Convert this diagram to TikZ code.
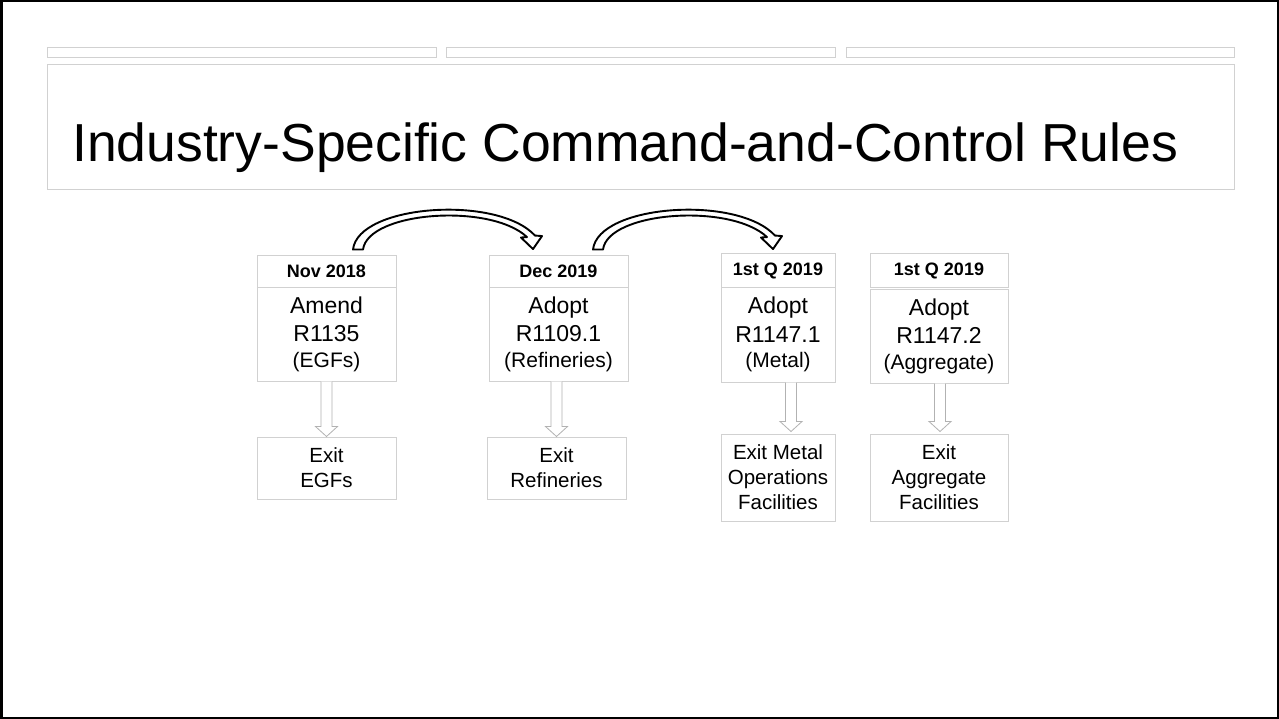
\documentclass[tikz,border=0pt]{standalone}
\usepackage{fontspec}
\setmainfont{Liberation Sans}
\usetikzlibrary{calc}
\tikzset{
  graybox/.style={draw=black!18, line width=1pt, inner sep=0pt, align=center, fill=white},
  hdr/.style={graybox, font=\bfseries\fontsize{18}{20}\selectfont},
  bodybox/.style={graybox, font=\fontsize{23}{28.5}\selectfont},
  exitbox/.style={graybox, font=\fontsize{20.5}{25}\selectfont},
  topbar/.style={graybox, minimum height=10pt},
  downarr/.style={draw=black!30, fill=white, line width=0.8pt, line join=miter},
  curvedarr/.style={draw=black, fill=white, line width=1.9pt, line join=round},
  curvedarrow/.pic={
    \path[curvedarr] (26.5,-5.7) .. controls (31.5,-50.7) and (170.5,-60.7) .. (208.5,-19.7)
      -- (215.5,-19.2) -- (206.5,-6.2) -- (194.5,-17.7) -- (200.5,-18.2)
      .. controls (163.5,-52.7) and (41.5,-43.7) .. (36.5,-5.7) -- cycle;
  }
}
\newcommand\blockdown[2]{%
  \draw[downarr] ($(#1)+(-5.5,0)$) -- ($(#2)+(-5.5,-10)$) -- ($(#2)+(-11,-10)$) -- (#2)
    -- ($(#2)+(11,-10)$) -- ($(#2)+(5.5,-10)$) -- ($(#1)+(5.5,0)$);}
\begin{document}
\begin{tikzpicture}[x=1pt,y=-1pt]
\useasboundingbox (0,0) rectangle (1279,719);
\fill[white] (0,0) rectangle (1279,719);
\draw[line width=2.5pt] (1.25,1.25) rectangle (1277.75,717.75);

% top bars and title box
\node[topbar, minimum width=389pt] (bar1) at (241.5,53) {};
\node[topbar, minimum width=389pt] (bar2) at (640.5,53) {};
\node[topbar, minimum width=388pt] (bar3) at (1040,53) {};
\node[graybox, minimum width=1187pt, minimum height=125pt] (tbox) at (640.5,127.5) {};
\node[anchor=base west, inner sep=0pt, font=\fontsize{53.5}{60}\selectfont] (title) at (72,161.7)
  {Industry-Specific Command-and-Control Rules};

% headers
\node[hdr, minimum width=139pt, minimum height=31.5pt] (h1) at (326.5,271.5) {Nov 2018};
\node[hdr, minimum width=139pt, minimum height=31.5pt] (h2) at (558.5,271.5) {Dec 2019};
\node[hdr, minimum width=114pt, minimum height=33pt] (h3) at (778,270.5) {1st Q 2019};
\node[hdr, minimum width=138pt, minimum height=33pt] (h4) at (939,270.5) {1st Q 2019};

% bodies
\node[bodybox, minimum width=139pt, minimum height=94pt] (b1) at (326.5,334)
  {Amend\\R1135\\[-2.8pt]{\fontsize{21}{25}\selectfont (EGFs)}};
\node[bodybox, minimum width=139pt, minimum height=94pt] (b2) at (558.5,334)
  {Adopt\\R1109.1\\[-2.8pt]{\fontsize{21}{25}\selectfont (Refineries)}};
\node[bodybox, minimum width=114pt, minimum height=95pt] (b3) at (778,334.5)
  {Adopt\\R1147.1\\[-2.8pt]{\fontsize{21}{25}\selectfont (Metal)}};
\node[bodybox, minimum width=138pt, minimum height=94pt] (b4) at (939,336)
  {Adopt\\R1147.2\\[-2.8pt]{\fontsize{21}{25}\selectfont (Aggregate)}};

% exit boxes
\node[exitbox, minimum width=139pt, minimum height=62pt] (e1) at (326.5,468) {Exit\\EGFs};
\node[exitbox, minimum width=139pt, minimum height=62pt] (e2) at (556.5,468) {Exit\\Refineries};
\node[exitbox, minimum width=114pt, minimum height=87pt] (e3) at (778,477.5) {Exit Metal\\Operations\\Facilities};
\node[exitbox, minimum width=138pt, minimum height=87pt] (e4) at (939,477.5) {Exit\\Aggregate\\Facilities};

% down block arrows
\coordinate (a1t) at (b1.south);
\coordinate (a1b) at (e1.north);
\coordinate (a2t) at ($(b2.south)+(-2,0)$);
\coordinate (a2b) at (e2.north);
\coordinate (a3t) at ($(b3.south)+(13,0)$);
\coordinate (a3b) at ($(e3.north)+(13,-2)$);
\coordinate (a4t) at ($(b4.south)+(1,0)$);
\coordinate (a4b) at ($(e4.north)+(1,-2)$);
\blockdown{a1t}{a1b}
\blockdown{a2t}{a2b}
\blockdown{a3t}{a3b}
\blockdown{a4t}{a4b}

% curved arrows
\pic at (h1.north) {curvedarrow};
\pic at ($(h2.north)+(8,0)$) {curvedarrow};
\end{tikzpicture}
\end{document}
